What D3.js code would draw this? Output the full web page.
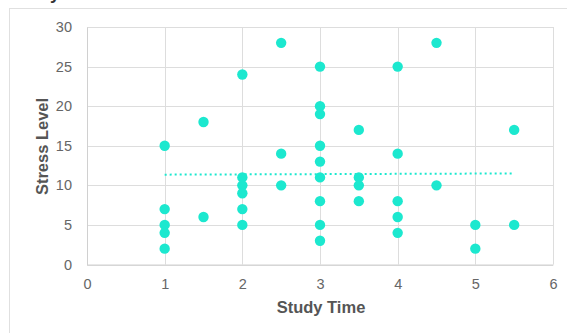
<!DOCTYPE html>
<html>
<head>
<meta charset="utf-8">
<script src="https://cdn.jsdelivr.net/npm/d3@7"></script>
<style>
  html, body { margin: 0; padding: 0; background: #fff; }
  svg { display: block; }
</style>
</head>
<body>
<svg id="chart" width="567" height="333"></svg>
<script>
// ---- Data ----
const studyTime = [1,1,1,1,1, 1.5,1.5, 2,2,2,2,2,2, 2.5,2.5,2.5,
  3,3,3,3,3,3,3,3,3, 3.5,3.5,3.5,3.5, 4,4,4,4,4, 4.5,4.5, 5,5, 5.5,5.5];
const stressLevel = [15,7,5,4,2, 18,6, 24,11,10,9,7,5, 28,14,10,
  25,20,19,15,13,11,8,5,3, 17,11,10,8, 25,14,8,6,4, 28,10, 5,2, 17,5];
const trendX = [1, 5.5];
const trendY = [11.35, 11.5];
const xTicks = [0,1,2,3,4,5,6];
const yTicks = [0,5,10,15,20,25,30];
const titleText = "Study Time vs. Stress Level";
const xTitle = "Study Time";
const yTitle = "Stress Level";

// ---- Layout ----
const svg = d3.select("#chart");
const pLeft = 87, pRight = 553, pTop = 27, pBottom = 264.5;
const x = d3.scaleLinear().domain([0, 6]).range([pLeft, pRight]);
const y = d3.scaleLinear().domain([0, 30]).range([pBottom, pTop]);
const font = "Liberation Sans, Arial, sans-serif";

// outer frame
svg.append("rect").attr("x", 9.5).attr("y", 8.5).attr("width", 600).attr("height", 400)
  .attr("fill", "none").attr("stroke", "#e0e0e0").attr("stroke-width", 1);

// title (mostly cut off at the top, as in the reference)
svg.append("text").attr("x", 10).attr("y", -1)
  .attr("font-family", font).attr("font-size", 18)
  .attr("font-weight", "bold").attr("fill", "#333").text(titleText);

// grid
const grid = svg.append("g");
grid.selectAll("line.v").data(xTicks).join("line")
  .attr("x1", d => Math.round(x(d)) + 0.5).attr("x2", d => Math.round(x(d)) + 0.5)
  .attr("y1", pTop).attr("y2", pBottom)
  .attr("stroke", "#dddddd").attr("stroke-width", 1);
grid.selectAll("line.h").data(yTicks).join("line")
  .attr("y1", d => Math.round(y(d)) + 0.5).attr("y2", d => Math.round(y(d)) + 0.5)
  .attr("x1", pLeft).attr("x2", pRight)
  .attr("stroke", "#dddddd").attr("stroke-width", 1);

// axes (labels only)
const xAxis = d3.axisBottom(x).tickValues(xTicks).tickSize(0).tickPadding(14).tickFormat(d3.format("d"));
const yAxis = d3.axisLeft(y).tickValues(yTicks).tickSize(0).tickPadding(15).tickFormat(d3.format("d"));
const gx = svg.append("g").attr("transform", `translate(0,${pBottom})`).call(xAxis);
const gy = svg.append("g").attr("transform", `translate(${pLeft},0)`).call(yAxis);
[gx, gy].forEach(g => {
  g.select(".domain").attr("stroke", "#d0d0d0");
  g.selectAll("text").attr("font-family", font)
    .attr("font-size", 14.5).attr("fill", "#666");
});

// trend line
svg.append("line")
  .attr("x1", x(trendX[0])).attr("y1", y(trendY[0]))
  .attr("x2", x(trendX[1])).attr("y2", y(trendY[1]))
  .attr("stroke", "#1ce8cf").attr("stroke-width", 2).attr("stroke-dasharray", "2,3");

// points
svg.append("g").selectAll("circle").data(studyTime.map((t, i) => [t, stressLevel[i]])).join("circle")
  .attr("cx", d => x(d[0])).attr("cy", d => y(d[1])).attr("r", 5.2)
  .attr("fill", "#1ce8cf");

// axis titles
svg.append("text").attr("x", 321).attr("y", 313)
  .attr("text-anchor", "middle").attr("font-family", font)
  .attr("font-size", 16.5).attr("font-weight", "bold").attr("fill", "#555").text(xTitle);
svg.append("text").attr("transform", `translate(48,146.5) rotate(-90)`)
  .attr("text-anchor", "middle").attr("font-family", font)
  .attr("font-size", 16.5).attr("font-weight", "bold").attr("fill", "#555").text(yTitle);
</script>
</body>
</html>
